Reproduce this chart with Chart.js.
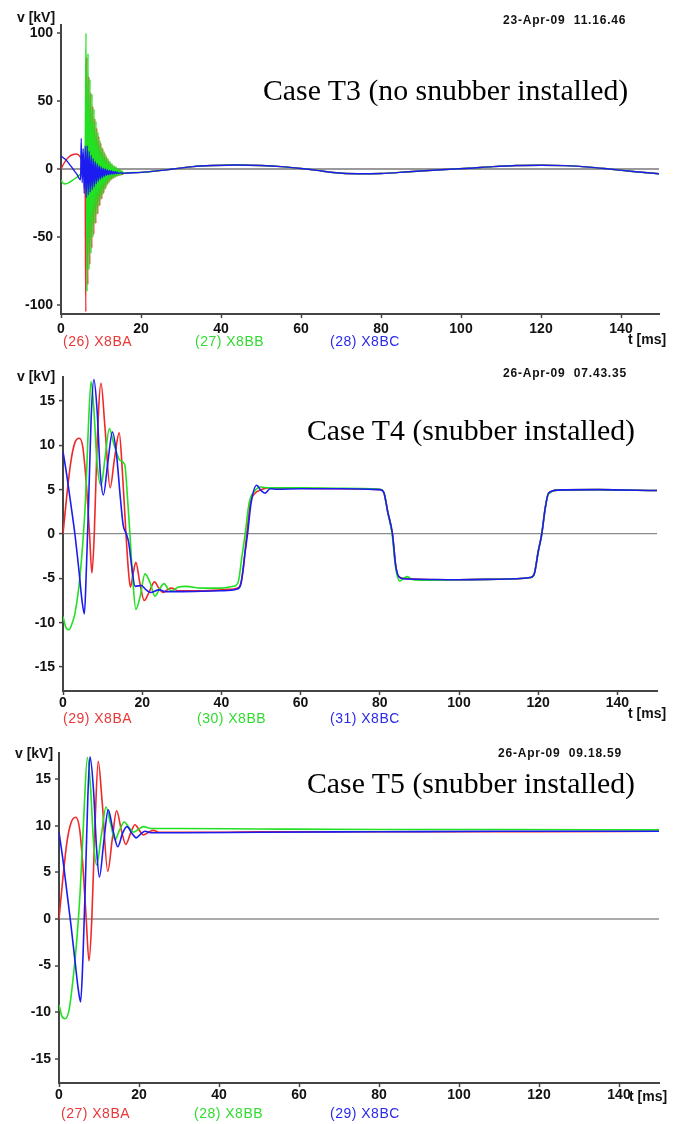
<!DOCTYPE html>
<html><head><meta charset="utf-8">
<script src="https://cdn.jsdelivr.net/npm/chart.js@4.4.0/dist/chart.umd.min.js"></script>
<style>
html,body{margin:0;padding:0;background:#fff;}
body{width:682px;height:1124px;position:relative;overflow:hidden;}
canvas{position:absolute;left:0;}
.t{position:absolute;white-space:pre;line-height:1;}
.case{font-family:"Liberation Serif","Times New Roman",serif;font-size:29.8px;color:#000;}
.date{font-family:"Liberation Sans",Arial,sans-serif;font-weight:bold;font-size:12px;letter-spacing:0.8px;color:#111;}
.ax{font-family:"Liberation Sans",Arial,sans-serif;font-weight:bold;font-size:14px;color:#111;}
.lg{font-family:"Liberation Sans",Arial,sans-serif;font-size:14px;letter-spacing:0.5px;}
.r{color:#e83838;} .g{color:#30dc30;} .b{color:#2a2ae8;}
</style></head><body>
<canvas id="c1" width="682" height="350" style="top:0px"></canvas>
<canvas id="c2" width="682" height="380" style="top:350px"></canvas>
<canvas id="c3" width="682" height="394" style="top:730px"></canvas>

<div class="t ax" style="left:17px;top:10px">v [kV]</div>
<div class="t date" style="left:503px;top:14px">23-Apr-09  11.16.46</div>
<div class="t case" style="left:263px;top:75px">Case T3 (no snubber installed)</div>
<div class="t ax" style="left:628px;top:332px">t [ms]</div>
<div class="t lg r" style="left:63px;top:334px">(26) X8BA</div>
<div class="t lg g" style="left:195px;top:334px">(27) X8BB</div>
<div class="t lg b" style="left:330px;top:334px">(28) X8BC</div>

<div class="t ax" style="left:17px;top:369px">v [kV]</div>
<div class="t date" style="left:503px;top:367px">26-Apr-09  07.43.35</div>
<div class="t case" style="left:307px;top:415px">Case T4 (snubber installed)</div>
<div class="t ax" style="left:628px;top:706px">t [ms]</div>
<div class="t lg r" style="left:63px;top:711px">(29) X8BA</div>
<div class="t lg g" style="left:197px;top:711px">(30) X8BB</div>
<div class="t lg b" style="left:330px;top:711px">(31) X8BC</div>

<div class="t ax" style="left:15px;top:746px">v [kV]</div>
<div class="t date" style="left:498px;top:747px">26-Apr-09  09.18.59</div>
<div class="t case" style="left:307px;top:768px">Case T5 (snubber installed)</div>
<div class="t ax" style="left:629px;top:1089px">t [ms]</div>
<div class="t lg r" style="left:61px;top:1106px">(27) X8BA</div>
<div class="t lg g" style="left:194px;top:1106px">(28) X8BB</div>
<div class="t lg b" style="left:330px;top:1106px">(29) X8BC</div>

<script>
// ---------- tick labels ----------
const xTicks = [0, 20, 40, 60, 80, 100, 120, 140];
const yTicksT3 = [-100, -50, 0, 50, 100];
const yTicksT45 = [-15, -10, -5, 0, 5, 10, 15];

// ---------- Case T3 (no snubber) ----------
const t3RedT = [0,1,2,3,3.9,4.8,5.5,6.0,6.2,6.45,6.7,6.95,7.2,7.45,7.7,7.95,8.2,8.45,8.7,8.95,9.2,9.45,9.7,9.95,10.2,10.45,10.7,10.95,11.2,11.45,11.7,11.95,12.2,12.45,12.7,12.95,13.2,13.45,13.7,13.95,14.2,14.45,14.7,14.95,15.2,15.6];
const t3RedV = [0,5.5,9,10.7,11,9,5,2,-105,82,-85,68,-70,56,-58,46,-48,37,-40,30,-33,24,-27,19,-22,15,-17.5,11.5,-14,8.5,-11,6,-9,4,-7.5,2.5,-6.5,1.5,-5.5,0.5,-5,-0.5,-4.5,-1.5,-4,-3.2];
const t3GreenT = [0,0.5,1,2,3,4,5,5.7,6.0,6.25,6.5,6.75,7.0,7.25,7.5,7.75,8.0,8.25,8.5,8.75,9.0,9.25,9.5,9.75,10.0,10.25,10.5,10.75,11.0,11.25,11.5,11.75,12.0,12.25,12.5,12.75,13.0,13.25,13.5,13.75,14.0,14.25,14.5,14.75,15.0,15.25,15.6];
const t3GreenV = [-8,-10.5,-11,-10,-8,-6,-3.5,-2,-1,100,-90,85,-74,66,-62,55,-50,44,-40,35,-33,27,-27,21,-22,16,-18.5,13,-15,10,-12,7.5,-10,5.5,-8,4,-7,2.5,-6,1.5,-5.2,0.5,-4.8,-0.5,-4.5,-1.5,-3.4];
const t3BlueT = [0,1,2,3,4,4.9,5.05,5.3,5.55,5.8,6.05,6.3,6.55,6.8,7.05,7.3,7.55,7.8,8.05,8.3,8.55,8.8,9.05,9.3,9.55,9.8,10.05,10.3,10.55,10.8,11.05,11.3,11.55,11.8,12.05,12.3,12.55,12.8,13.05,13.3,13.55,13.8,14.05,14.3,14.8,15.6];
const t3BlueV = [9.6,7.3,4,0,-4,-8,22.5,-10,15,-18,17,-21,17,-19,13,-17,10,-15,7.5,-13,5.5,-11,4,-9,2.5,-7.5,1.5,-6.5,0.5,-5.5,0,-4.8,-0.5,-4.3,-1,-4,-1.3,-3.7,-1.8,-3.5,-2,-3.3,-2.3,-3.2,-2.8,-3.1];
const t3TailT = [16,20,24,28,33,38,44,50,55,60,64,68,74,80,87,95,102,108,114,120,126,132,137,143,149.5];
const t3TailV = [-3.0,-2.5,-1.4,0,1.8,2.6,3.0,2.6,1.8,0.4,-1.0,-2.6,-3.5,-3.3,-2.0,-0.5,0.6,1.8,2.6,2.8,2.5,1.4,0,-1.8,-3.5];

// ---------- Case T4 (snubber) ----------
const t4RedT = [0,1,2,3,4.1,5,6,6.7,7.3,7.9,8.6,9.6,10.6,11.9,13.0,14.2,15.0,15.9,16.5,17.0,17.7,18.4,19.4,20.5,21.8,23.1,24.2,25.3,26.3,27.4,29,35,40,43,44.5,45.5,46.4,47.3,48.3,50,52,60,70,80,81,82,83.2,84.0,84.7,86,90,100,110,118,119,120,120.9,121.8,122.6,125,135,150];
const t4RedV = [0,4.5,8.2,10.3,10.8,9.8,5,0,-4.4,0,10,17.0,12,5.2,8.5,11.4,7,0,-4,-6.0,-4.5,-3.2,-5.5,-7.5,-6.5,-5.4,-6.1,-6.6,-6.3,-6.1,-6.4,-6.4,-6.3,-6.2,-6.0,-4,0,3.5,4.5,5.0,5.2,5.15,5.1,5.0,4.7,2.5,0,-3.5,-4.8,-5.0,-5.1,-5.15,-5.1,-4.9,-4.5,-2,0,3,4.6,4.95,5.0,4.9];
const t4GreenT = [0,0.7,1.5,2.5,3.0,4.0,5.0,5.7,6.4,7.1,7.8,8.6,9.6,10.6,11.7,12.8,14.4,15.6,16.3,16.9,17.6,18.4,19.5,20.7,22.0,23.2,24.4,25.5,26.6,27.6,29,31,35,40,43,44.2,45.2,46.0,47,48.3,50,52,60,70,80,81,82,83.1,84,85,86,87,88,90,100,110,118,119,120,120.9,121.8,122.6,125,135,150];
const t4GreenV = [-9.3,-10.5,-10.8,-9.8,-9,-6,-1,4,12,17.2,14,8,5.5,8.5,11.9,10.2,8.3,7.8,4,0,-5,-8.5,-7,-4.5,-5.5,-7.0,-6.2,-5.6,-6.2,-6.4,-6.0,-5.9,-6.1,-6.1,-5.9,-5.5,-2.5,0,3.5,4.8,5.3,5.2,5.2,5.15,5.05,4.7,2.5,0,-3.8,-5.3,-5.0,-4.8,-5.1,-5.2,-5.15,-5.1,-4.9,-4.5,-2,0,3,4.5,4.95,5.0,4.9];
const t4BlueT = [0,1,2,3.0,4.0,4.8,5.4,5.9,6.5,7.1,7.8,8.6,9.4,10.2,11.3,12.5,13.5,14.5,15.2,16.0,16.6,17.3,18.2,19.8,21.0,22.1,24.2,26,30,40,44,45,46,46.6,47.5,48.9,50.0,51.0,52.3,54,60,70,80,81,82,83.2,84.0,84.8,86,90,100,110,118,119,120,120.9,121.8,122.6,125,135,150];
const t4BlueV = [9.3,6.5,3.3,0,-4,-7.5,-9.0,-4,4,13,17.4,14,7,4.4,8,11.5,9,4,1,0,-1,-3.5,-5.9,-5.8,-6.3,-6.6,-6.3,-6.5,-6.5,-6.4,-6.2,-5.5,-2,0,3.5,5.5,4.9,4.6,5.1,5.05,5.1,5.1,5.0,4.7,2.5,0,-3.5,-4.8,-5.05,-5.1,-5.15,-5.1,-4.9,-4.5,-2,0,3,4.6,4.95,5.0,4.9];

// ---------- Case T5 (snubber) ----------
const t5RedT = [0,1,2,3,4.2,5.2,6.0,6.8,7.5,8.2,9.0,9.8,10.8,12.2,13.3,14.4,15.6,16.7,17.9,19.0,20.1,21.1,22.4,23.6,25,30,40,50,60,80,100,120,150];
const t5RedV = [0,4.5,8.3,10.3,10.9,9.5,5.5,0,-4.5,0,10,16.9,12.5,5.1,8.5,11.6,9.5,8.0,9.2,10.1,9.5,9.0,9.3,9.5,9.3,9.3,9.3,9.35,9.35,9.35,9.35,9.35,9.4];
const t5GreenT = [0,0.7,1.5,2.5,3.5,4.5,5.3,6.2,7.1,7.9,8.6,9.4,10.6,11.75,12.9,14.0,15.1,16.3,17.5,18.6,19.8,21.1,23,30,50,80,110,150];
const t5GreenV = [-9.2,-10.4,-10.7,-9.8,-6.5,-2,3,11,17.3,14,8.5,5.8,9,12.0,10.2,8.5,9.5,10.4,9.8,9.3,9.6,9.9,9.7,9.7,9.65,9.6,9.6,9.55];
const t5BlueT = [0,1,2,3.0,4.0,4.8,5.4,6.0,6.6,7.2,7.75,8.6,9.4,10.1,11.2,12.3,13.5,14.7,15.9,17.0,18.2,19.3,20.4,21.5,23,30,50,80,110,150];
const t5BlueV = [9.3,6.3,2.8,-0.7,-4.5,-7.5,-8.9,-4,4,13,17.4,14,7.5,4.5,8.3,11.7,9.5,7.75,9.2,9.9,9.2,8.7,9.1,9.4,9.25,9.25,9.3,9.35,9.4,9.4];

// ---------- helpers ----------
const RED = '#f02828', GREEN = '#22e022', BLUE = '#1c1cf0';
function pts(T, V) { return T.map((t, i) => ({ x: t, y: V[i] })); }
function ds(data, color, order, width) {
  return { data, borderColor: color, borderWidth: width, pointRadius: 0, fill: false,
           cubicInterpolationMode: 'monotone', order };
}
const tickFont = { family: 'Liberation Sans, Arial, sans-serif', size: 14, weight: 'bold' };

function makePanel(id, o) {
  new Chart(document.getElementById(id), {
    type: 'line',
    data: { datasets: o.datasets },
    options: {
      responsive: false, animation: false, devicePixelRatio: 1,
      layout: { padding: { top: o.padTop, right: o.padRight, left: 0, bottom: 0 } },
      plugins: { legend: { display: false }, tooltip: { enabled: false }, title: { display: false } },
      scales: {
        x: {
          type: 'linear', min: 0, max: o.xMax,
          afterBuildTicks: s => { s.ticks = xTicks.map(v => ({ value: v })); },
          afterFit: s => { s.height = o.xH; },
          ticks: { font: tickFont, color: '#111', padding: o.xPad, maxRotation: 0, autoSkip: false },
          grid: { drawOnChartArea: false, tickColor: '#444', tickLength: 4, tickWidth: 1.5 },
          border: { color: '#444', width: 2 }
        },
        y: {
          type: 'linear', min: o.yMin, max: o.yMax,
          afterBuildTicks: s => { s.ticks = o.yTicks.map(v => ({ value: v })); },
          afterFit: s => { s.width = o.yW; },
          ticks: { font: tickFont, color: '#111', padding: 4, callback: v => String(v) },
          grid: {
            color: c => (c.tick && c.tick.value === 0) ? o.zeroColor : 'rgba(0,0,0,0)',
            lineWidth: o.zeroWidth, tickColor: '#444', tickLength: 4, tickWidth: 1.5
          },
          border: { color: '#444', width: 2 }
        }
      }
    }
  });
}

makePanel('c1', {
  padTop: 25, padRight: 23, yW: 61, xH: 36, xMax: 149.5, yMin: -106.6, yMax: 105.9,
  yTicks: yTicksT3, xPad: 3, zeroColor: '#9a9a9a', zeroWidth: 2,
  datasets: [
    ds(pts(t3BlueT.concat(t3TailT), t3BlueV.concat(t3TailV)), BLUE, 0, 1.4),
    ds(pts(t3GreenT.concat(t3TailT), t3GreenV.concat(t3TailV)), GREEN, 1, 1.4),
    ds(pts(t3RedT.concat(t3TailT), t3RedV.concat(t3TailV)), RED, 2, 1.4)
  ]
});

makePanel('c2', {
  padTop: 27, padRight: 25, yW: 63, xH: 39, xMax: 150, yMin: -17.7, yMax: 17.7,
  yTicks: yTicksT45, xPad: 0, zeroColor: '#8a8a8a', zeroWidth: 1.2,
  datasets: [
    ds(pts(t4BlueT, t4BlueV), BLUE, 0, 1.6),
    ds(pts(t4GreenT, t4GreenV), GREEN, 1, 1.6),
    ds(pts(t4RedT, t4RedV), RED, 2, 1.6)
  ]
});

makePanel('c3', {
  padTop: 23, padRight: 23, yW: 59, xH: 41, xMax: 150, yMin: -17.6, yMax: 17.8,
  yTicks: yTicksT45, xPad: 0, zeroColor: '#aaaaaa', zeroWidth: 2,
  datasets: [
    ds(pts(t5BlueT, t5BlueV), BLUE, 0, 1.6),
    ds(pts(t5GreenT, t5GreenV), GREEN, 1, 1.6),
    ds(pts(t5RedT, t5RedV), RED, 2, 1.6)
  ]
});
</script>
</body></html>
